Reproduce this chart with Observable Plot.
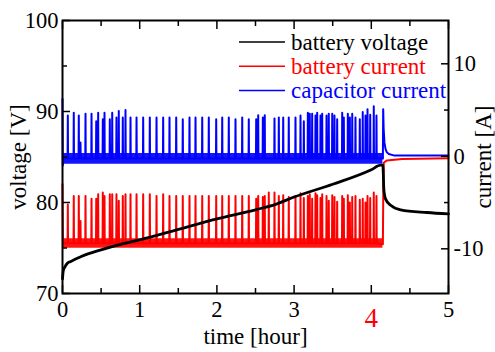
<!DOCTYPE html>
<html><head><meta charset="utf-8">
<script src="https://cdn.jsdelivr.net/npm/d3@7"></script>
<script src="https://cdn.jsdelivr.net/npm/@observablehq/plot@0.6"></script>
<style>
body{margin:0;background:#fff;}
#wrap{width:495px;height:352px;}
#wrap svg, #wrap svg text{font-family:"Liberation Serif","Tinos","Times New Roman","DejaVu Serif","Noto Serif",serif !important;}
</style></head><body><div id="wrap"></div>
<script>
// ---- axes / ticks ----
const timeMajorTicks = [0, 1, 2, 3, 4, 5];
const timeMinorTicks = [0.5, 1.5, 2.5, 3.5, 4.5];
const highlightedTimeTick = 4;
const voltageMajorTicks = [70, 80, 90, 100];
const voltageMinorTicks = [75, 85, 95];
const currentMajorTicks = [-10, 0, 10];
const currentMinorTicks = [-5, 5];
const voltageDomain = [70, 100];
const currentDomain = [-14.83, 14.68];
const xLabel = "time [hour]";
const yLeftLabel = "voltage [V]";
const yRightLabel = "current [A]";
const seriesNames = ["battery voltage", "battery current", "capacitor current"];
const seriesColors = ["black", "red", "blue"];

// ---- battery voltage ----
const voltageTime = [0, 0.01, 0.03, 0.06, 0.1, 0.15, 0.25, 0.5, 0.75, 1.0, 1.4, 2.0, 2.5, 2.76, 3.0, 3.5, 4.0, 4.12, 4.15, 4.155, 4.162, 4.184, 4.25, 4.38, 4.72, 5.0];
const voltageValue = [71.6, 72.5, 72.9, 73.3, 73.5, 73.7, 74.1, 74.8, 75.4, 75.9, 76.8, 78.2, 79.2, 79.8, 80.6, 82.0, 83.6, 84.1, 84.1, 83.3, 81.5, 80.4, 79.7, 79.2, 78.9, 78.75];

// ---- current spikes (charging pulses) ----
const spikeTimes = [0.069, 0.146, 0.211, 0.233, 0.298, 0.376, 0.437, 0.462, 0.522, 0.544, 0.613, 0.644, 0.699, 0.729, 0.781, 0.816, 0.881, 0.959, 1.045, 1.131, 1.218, 1.304, 1.386, 1.473, 1.558, 1.645, 1.723, 1.810, 1.895, 1.991, 2.069, 2.154, 2.241, 2.328, 2.413, 2.509, 2.535, 2.595, 2.620, 2.672, 2.746, 2.802, 2.859, 2.931, 3.018, 3.083, 3.126, 3.178, 3.203, 3.234, 3.277, 3.299, 3.342, 3.364, 3.420, 3.449, 3.494, 3.523, 3.558, 3.623, 3.644, 3.696, 3.722, 3.753, 3.795, 3.851, 3.889, 3.925, 3.951, 3.986, 4.032, 4.067];
const capacitorPeaks = [4.4, 4.7, 4.4, 1.5, 4.6, 4.6, 3.8, 4.7, 4.0, 4.7, 4.0, 4.7, 4.2, 4.9, 4.2, 5.0, 4.2, 4.2, 4.2, 4.2, 4.2, 4.2, 4.2, 4.2, 4.0, 4.2, 4.2, 4.2, 4.2, 4.0, 4.2, 4.2, 4.0, 4.2, 4.0, 4.0, 4.45, 4.2, 4.45, -0.25, 4.1, 4.2, 4.2, 4.2, 4.2, 4.4, 3.8, 4.7, 4.6, 4.6, 4.4, 4.7, 4.4, 4.6, 4.4, 4.6, 4.6, 4.4, 4.0, 4.7, 4.2, 4.6, 4.2, 4.6, 4.2, 4.0, 4.8, 4.4, 5.1, 4.5, 5.4, 4.4];
const batteryPeaks = [-5.2, -4.3, -4.3, -7.0, -4.3, -4.6, -4.6, -4.1, -3.9, -4.3, -4.1, -4.1, -4.1, -4.8, -4.3, -4.1, -4.1, -4.1, -4.1, -4.1, -4.3, -4.1, -4.3, -4.3, -4.3, -4.3, -4.3, -4.3, -4.3, -4.3, -4.3, -4.3, -4.3, -4.3, -4.3, -4.6, -4.3, -4.4, -4.3, -3.9, -3.9, -4.3, -4.2, -4.4, -4.3, -4.0, -4.5, -4.3, -4.1, -4.6, -4.0, -4.2, -4.5, -4.1, -4.3, -4.8, -4.2, -4.4, -4.9, -4.3, -4.6, -4.2, -5.0, -4.4, -4.3, -4.7, -4.6, -5.0, -4.3, -4.5, -3.9, -4.3];

const batteryBase = -9.4;
const capacitorBase = -0.25;
const bandTimes = [0.006, 4.15];
const batteryBandLow = [-9.95, -9.95];
const batteryBandHigh = [-8.9, -8.9];
const capacitorBandLow = [-0.85, -0.85];
const capacitorBandHigh = [0.3, 0.3];

const batteryStartTime = [0, 0.006];
const batteryStartValue = [-3.0, -9.4];
const batteryTailTime = [4.150, 4.156, 4.162, 4.2, 4.4, 5.0];
const batteryTailValue = [-9.5, -3.0, -0.7, -0.45, -0.3, -0.2];
const capacitorStartTime = [0, 0.004, 0.008];
const capacitorStartValue = [6.2, -1.0, -0.25];
const capacitorTailTime = [4.150, 4.154, 4.16, 4.17, 4.184, 4.2, 4.227, 4.29, 5.0];
const capacitorTailValue = [-0.25, 5.1, 3.0, 1.5, 0.8, 0.45, 0.24, 0.1, 0.1];

// ---- build tables ----
const toV = c => voltageDomain[0] + (c - currentDomain[0]) * (voltageDomain[1] - voltageDomain[0]) / (currentDomain[1] - currentDomain[0]);
const fromV = v => currentDomain[0] + (v - voltageDomain[0]) * (currentDomain[1] - currentDomain[0]) / (voltageDomain[1] - voltageDomain[0]);

function spikeSeries(startT, startC, base, peaks, tailT, tailC) {
  const hw = 0.003;
  const pts = startT.map((t, i) => ({t, c: startC[i]}));
  spikeTimes.forEach((t, i) => {
    pts.push({t: t - hw, c: base}, {t, c: peaks[i]}, {t: t + hw, c: base});
  });
  tailT.forEach((t, i) => pts.push({t, c: tailC[i]}));
  return pts;
}
const batteryLine = spikeSeries(batteryStartTime, batteryStartValue, batteryBase, batteryPeaks, batteryTailTime, batteryTailValue);
const capacitorLine = spikeSeries(capacitorStartTime, capacitorStartValue, capacitorBase, capacitorPeaks, capacitorTailTime, capacitorTailValue);
const batteryBand = bandTimes.map((t, i) => ({t, lo: batteryBandLow[i], hi: batteryBandHigh[i]}));
const capacitorBand = bandTimes.map((t, i) => ({t, lo: capacitorBandLow[i], hi: capacitorBandHigh[i]}));
const voltage = voltageTime.map((t, i) => ({t, v: voltageValue[i]}));

const fmtNum = n => { const r = Math.round(n); return r < 0 ? "-" + Math.abs(r) : String(r); };
const FS = 22.5;
const TFS = 23;
const FONT = "'Liberation Serif','Tinos','Times New Roman','DejaVu Serif','Noto Serif',serif";

const chart = Plot.plot({
  width: 495, height: 352,
  marginLeft: 62, marginRight: 47, marginTop: 20, marginBottom: 59,
  style: {fontFamily: FONT, fontSize: FS + "px", background: "white", overflow: "visible"},
  x: {domain: [0, 5], label: null},
  y: {domain: voltageDomain, label: null},
  marks: [
    Plot.areaY(batteryBand, {x: "t", y1: d => toV(d.lo), y2: d => toV(d.hi), fill: seriesColors[1], fillOpacity: 0.92}),
    Plot.line(batteryLine, {x: "t", y: d => toV(d.c), stroke: seriesColors[1], strokeWidth: 2}),
    Plot.areaY(capacitorBand, {x: "t", y1: d => toV(d.lo), y2: d => toV(d.hi), fill: seriesColors[2], fillOpacity: 0.92}),
    Plot.line(capacitorLine, {x: "t", y: d => toV(d.c), stroke: seriesColors[2], strokeWidth: 2}),
    Plot.line(voltage, {x: "t", y: "v", stroke: seriesColors[0], strokeWidth: 2.8, curve: "monotone-x"}),
    Plot.frame({stroke: "black", strokeWidth: 2}),
    // bottom
    Plot.axisX(timeMajorTicks, {anchor: "bottom", tickSize: -8, tickPadding: 16, strokeWidth: 1.5, fontSize: FS,
      tickFormat: d => d === highlightedTimeTick ? "" : String(d)}),
    Plot.axisX(timeMinorTicks, {anchor: "bottom", tickSize: -5, strokeWidth: 1.5, tickFormat: () => ""}),
    // top
    Plot.axisX(timeMajorTicks, {anchor: "top", tickSize: -8, strokeWidth: 1.5, tickFormat: () => ""}),
    Plot.axisX(timeMinorTicks, {anchor: "top", tickSize: -5, strokeWidth: 1.5, tickFormat: () => ""}),
    // left
    Plot.axisY(voltageMajorTicks, {anchor: "left", tickSize: -8, tickPadding: 12, strokeWidth: 1.5, fontSize: FS, tickFormat: d => String(d)}),
    Plot.axisY(voltageMinorTicks, {anchor: "left", tickSize: -5, strokeWidth: 1.5, tickFormat: () => ""}),
    // right (current)
    Plot.axisY(currentMajorTicks.map(toV), {anchor: "right", tickSize: -8, tickPadding: 13, strokeWidth: 1.5, fontSize: FS, tickFormat: v => fmtNum(fromV(v))}),
    Plot.axisY(currentMinorTicks.map(toV), {anchor: "right", tickSize: -5, strokeWidth: 1.5, tickFormat: () => ""}),
    // highlighted tick label
    Plot.text([highlightedTimeTick], {x: d => d, frameAnchor: "bottom", dy: 25, text: d => String(d), fill: "red", fontSize: 27, lineAnchor: "middle", textAnchor: "middle"}),
    // axis titles
    Plot.text([xLabel], {frameAnchor: "bottom", dy: 43, text: d => d, fontSize: TFS, lineAnchor: "middle", textAnchor: "middle"}),
    Plot.text([yLeftLabel], {frameAnchor: "left", dx: -44, rotate: -90, text: d => d, fontSize: TFS, lineAnchor: "middle", textAnchor: "middle"}),
    Plot.text([yRightLabel], {frameAnchor: "right", dx: 35, rotate: -90, text: d => d, fontSize: TFS, lineAnchor: "middle", textAnchor: "middle"})
  ]
});
document.getElementById("wrap").appendChild(chart);

// legend inside the plot
const svg = d3.select(chart.tagName.toLowerCase() === "svg" ? chart : chart.querySelector("svg"));
const lg = svg.append("g").attr("font-size", 23).attr("text-anchor", "start");
seriesNames.forEach((name, i) => {
  const y = 42 + i * 24.2;
  lg.append("line").attr("x1", 239).attr("x2", 285).attr("y1", y).attr("y2", y)
    .attr("stroke", seriesColors[i]).attr("stroke-width", 1.5);
  lg.append("text").attr("x", 291).attr("y", y + 8).attr("fill", seriesColors[i])
    .attr("text-anchor", "start").text(name);
});
</script>
</body></html>
